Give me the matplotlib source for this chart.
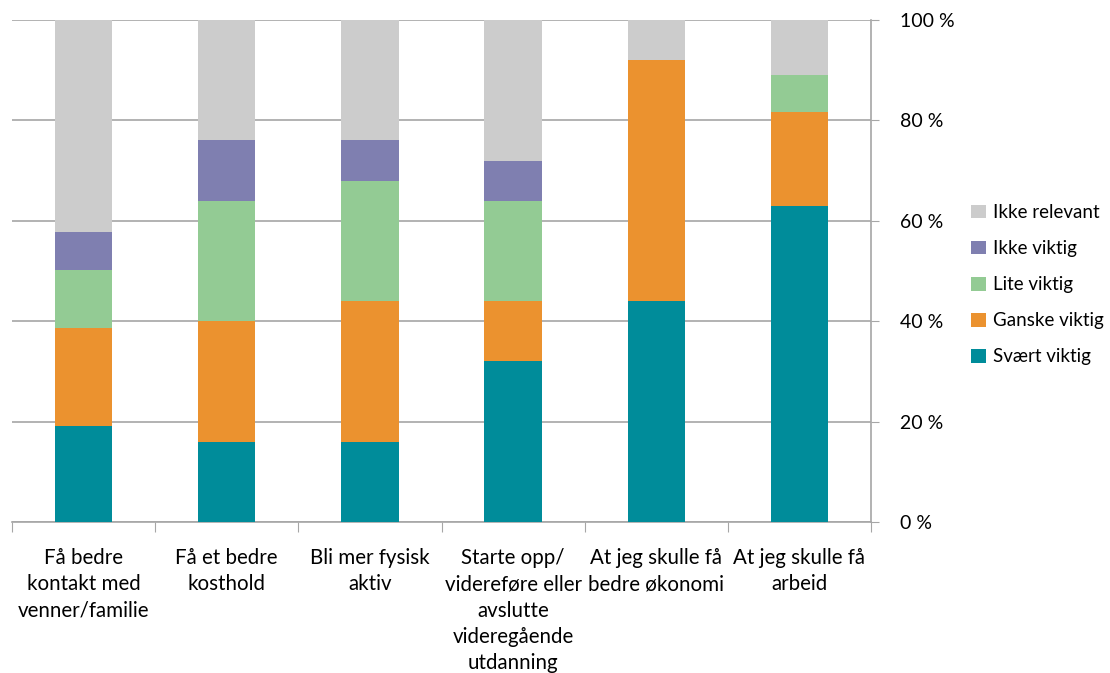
import numpy as np
import matplotlib.pyplot as plt
from matplotlib.patches import Patch

categories = [
    "Få bedre\nkontakt med\nvenner/familie",
    "Få et bedre\nkosthold",
    "Bli mer fysisk\naktiv",
    "Starte opp/\nvidereføre eller\navslutte\nvideregående\nutdanning",
    "At jeg skulle få\nbedre økonomi",
    "At jeg skulle få\narbeid",
]
series = ["Svært viktig", "Ganske viktig", "Lite viktig", "Ikke viktig", "Ikke relevant"]
svaert_viktig = [19.1, 16, 16, 32, 44, 63]
ganske_viktig = [19.5, 24, 28, 12, 48, 18.7]
lite_viktig = [11.6, 24, 24, 20, 0, 7.3]
ikke_viktig = [7.6, 12, 8, 8, 0, 0]
ikke_relevant = [42.2, 24, 24, 28, 8, 11]
colors = ["#008C9A", "#EB922F", "#93CB94", "#7F7FB0", "#CCCCCC"]

plt.rcParams["font.family"] = ["Lato", "DejaVu Sans"]

fig = plt.figure(figsize=(11.1, 6.73), dpi=100)
ax = fig.add_axes([0.0108, 0.2244, 0.7739, 0.7459])

x = np.arange(len(categories))
bottom = np.zeros(len(categories))
for name, vals, c in zip(series, [svaert_viktig, ganske_viktig, lite_viktig, ikke_viktig, ikke_relevant], colors):
    vals = np.array(vals)
    ax.bar(x, vals, 0.4, bottom=bottom, color=c, label=name, zorder=3)
    bottom += vals

ax.set_xlim(-0.5, len(categories) - 0.5)
ax.set_ylim(0, 100)

grid_c = "#A6A6A6"
ax.set_yticks(np.arange(0, 101, 20))
ax.set_yticklabels([f"{v} %" for v in range(0, 101, 20)], fontsize=14)
ax.yaxis.tick_right()
ax.tick_params(axis="y", direction="out", length=6, color=grid_c, pad=15)
ax.yaxis.grid(True, color=grid_c, linewidth=1.2, zorder=0)

# category boundaries get the ticks, labels sit in between
ax.set_xticks(np.arange(-0.5, len(categories), 1.0))
ax.set_xticklabels([])
ax.set_xticks(x, minor=True)
ax.set_xticklabels(categories, minor=True, fontsize=14.8, linespacing=1.38, va="top")
ax.tick_params(axis="x", which="major", direction="out", length=7, color=grid_c)
ax.tick_params(axis="x", which="minor", length=0, pad=19)

for s in ["left", "top"]:
    ax.spines[s].set_visible(False)
for s in ["right", "bottom"]:
    ax.spines[s].set_color(grid_c)
    ax.spines[s].set_linewidth(1.2)

handles = [Patch(facecolor=c, label=n) for n, c in zip(series, colors)][::-1]
fig.legend(handles=handles, loc="upper left", bbox_to_anchor=(0.86, 0.722),
           frameon=False, fontsize=13.5, handlelength=0.75, handleheight=0.75,
           handletextpad=0.4, labelspacing=1.02)

fig.savefig("out.png", dpi=100)
